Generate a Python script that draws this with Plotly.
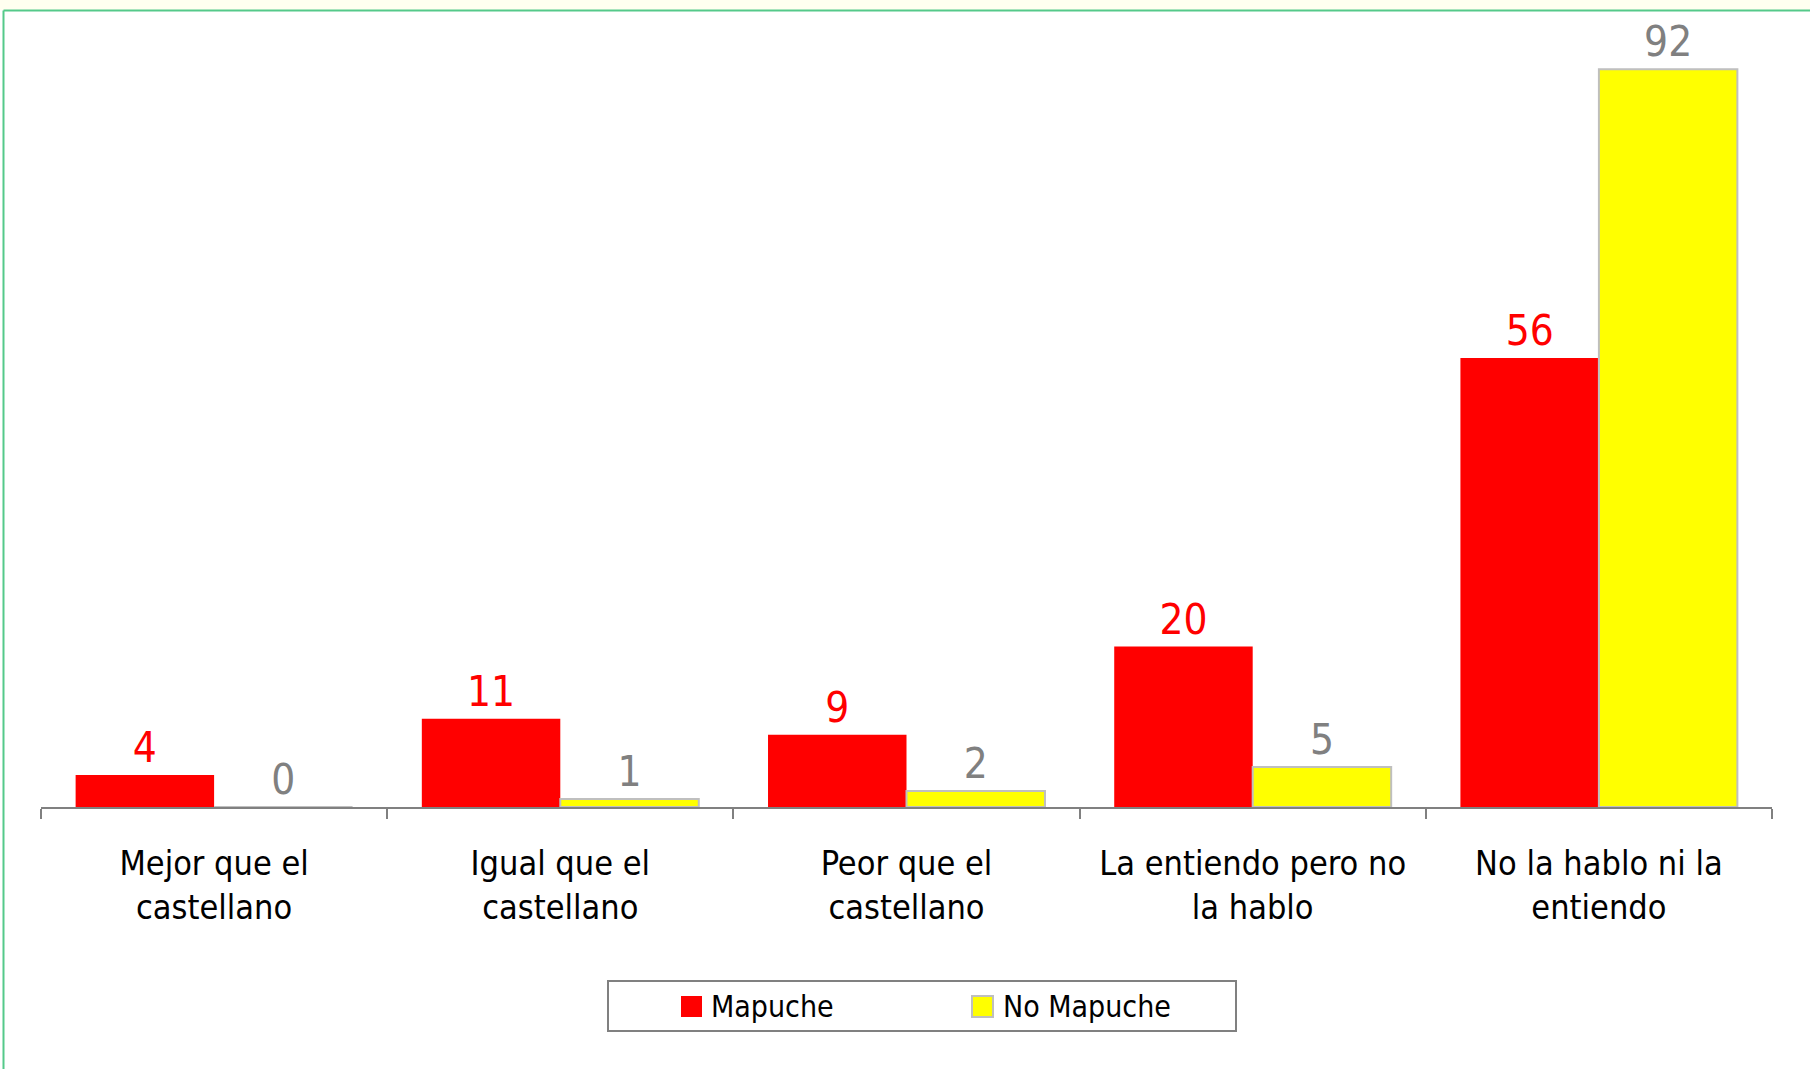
import plotly.graph_objects as go

categories = ["Mejor que el<br>castellano", "Igual que el<br>castellano", "Peor que el<br>castellano",
              "La entiendo pero no<br>la hablo", "No la hablo ni la<br>entiendo"]
series_names = ["Mapuche", "No Mapuche"]
mapuche = [4, 11, 9, 20, 56]
no_mapuche = [0, 1, 2, 5, 92]

FONT = "DejaVu Sans Condensed, DejaVu Sans, sans-serif"
W, H = 1810, 1069
ML, MR, MT, MB = 41, 38, 5, 262
PW = W - ML - MR
PH = H - MT - MB
AXIS_Y = H - MB


def px_x(x):
    return (x - ML) / PW


def px_y(y):
    return (AXIS_Y - y) / PH


fig = go.Figure()
fig.add_trace(go.Bar(
    x=categories, y=mapuche, name=series_names[0],
    marker=dict(color="#FF0000", line=dict(width=0)),
    text=[str(v) for v in mapuche], textposition="outside",
    textfont=dict(color="#FF0000", size=42, family=FONT),
    cliponaxis=False,
))
fig.add_trace(go.Bar(
    x=categories, y=no_mapuche, name=series_names[1],
    marker=dict(color="#FFFF00", line=dict(color="#BFBFBF", width=2)),
    text=[str(v) for v in no_mapuche], textposition="outside",
    textfont=dict(color="#808080", size=42, family=FONT),
    cliponaxis=False,
))

shapes = [
    dict(type="rect", xref="paper", yref="paper", x0=px_x(-5), x1=px_x(W + 5), y0=px_y(10), y1=px_y(-5),
         fillcolor="#FFFFF0", line=dict(width=0), layer="below"),
    dict(type="line", xref="paper", yref="paper", x0=px_x(3.5), x1=px_x(W + 5), y0=px_y(10.5), y1=px_y(10.5),
         line=dict(color="#55C98A", width=2)),
    dict(type="line", xref="paper", yref="paper", x0=px_x(3.5), x1=px_x(3.5), y0=px_y(10.5), y1=px_y(H + 5),
         line=dict(color="#55C98A", width=2)),
    # legend box
    dict(type="rect", xref="paper", yref="paper", x0=px_x(608), x1=px_x(1236), y0=px_y(1031), y1=px_y(981),
         fillcolor="white", line=dict(color="#808080", width=2)),
    # legend swatches
    dict(type="rect", xref="paper", yref="paper", x0=px_x(681), x1=px_x(702), y0=px_y(1017), y1=px_y(996),
         fillcolor="#FF0000", line=dict(width=0)),
    dict(type="rect", xref="paper", yref="paper", x0=px_x(972), x1=px_x(993), y0=px_y(1017), y1=px_y(996),
         fillcolor="#FFFF00", line=dict(color="#BFBFBF", width=2)),
]

annotations = [
    dict(text=series_names[0], xref="paper", yref="paper", x=px_x(709), y=px_y(1006),
         xanchor="left", yanchor="middle", showarrow=False,
         font=dict(family=FONT, size=30, color="black")),
    dict(text=series_names[1], xref="paper", yref="paper", x=px_x(1001), y=px_y(1006),
         xanchor="left", yanchor="middle", showarrow=False,
         font=dict(family=FONT, size=30, color="black")),
]

fig.update_layout(
    width=W, height=H,
    margin=dict(l=ML, r=MR, t=MT, b=MB),
    paper_bgcolor="white", plot_bgcolor="rgba(0,0,0,0)",
    barmode="group", bargap=0.2, bargroupgap=0,
    font=dict(family=FONT, size=34, color="black"),
    showlegend=False,
    xaxis=dict(showline=True, linecolor="#808080", linewidth=2, ticks="outside",
               tickson="boundaries", ticklen=10, tickcolor="#808080", tickwidth=2,
               ticklabelstandoff=25,
               tickfont=dict(size=34, family=FONT, color="black"), showgrid=False),
    yaxis=dict(range=[0, 100], visible=False, showgrid=False),
    shapes=shapes,
    annotations=annotations,
)

fig.write_html("out.html", config={"displayModeBar": False},
               post_script="document.body.style.margin='0';")
